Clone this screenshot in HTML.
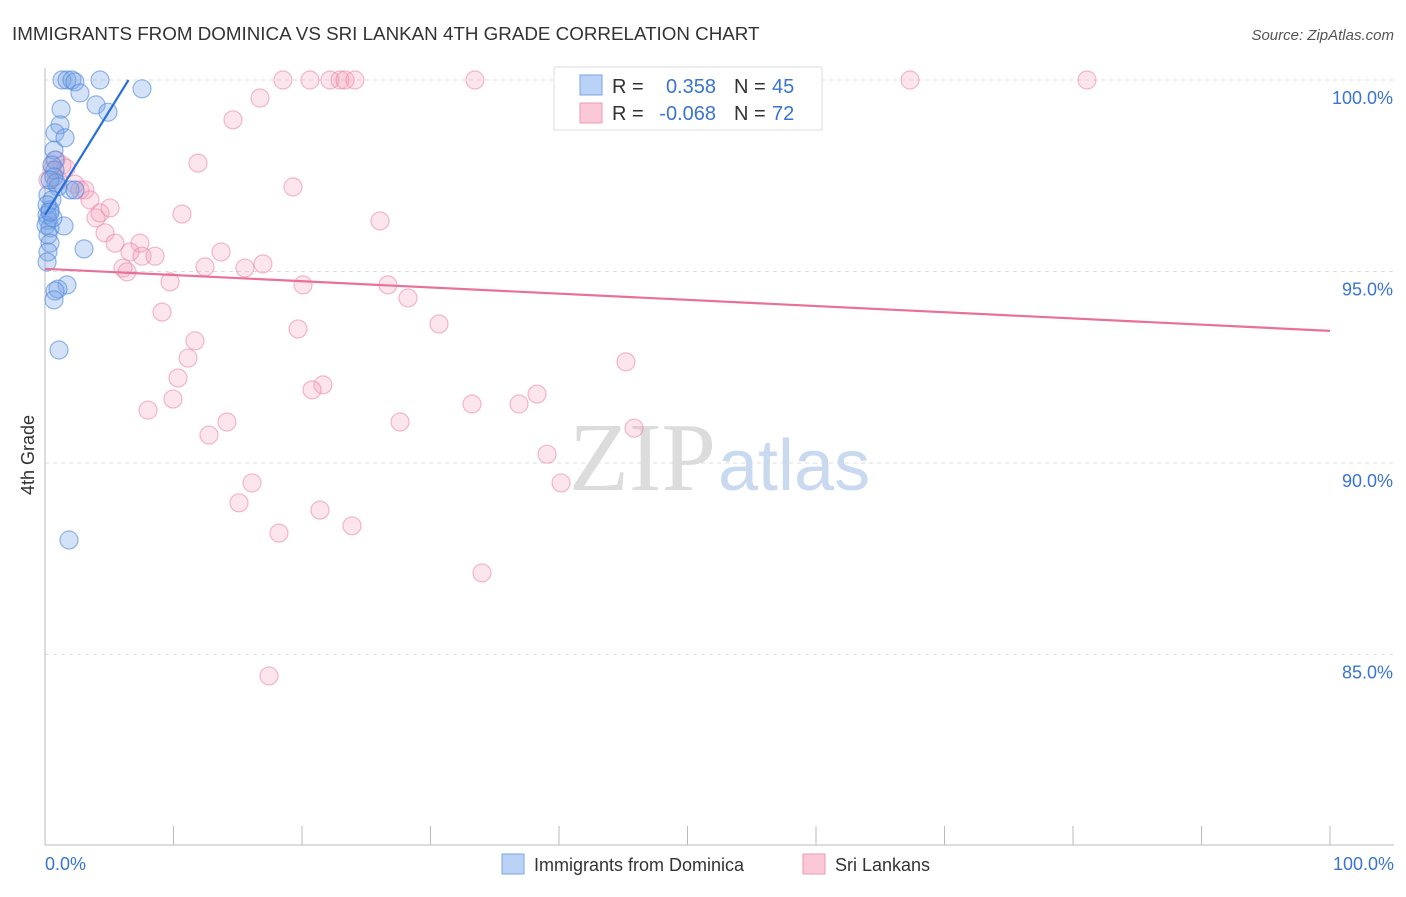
<!DOCTYPE html>
<html><head><meta charset="utf-8">
<style>
body{margin:0;background:#fff;font-family:"Liberation Sans",sans-serif;}
svg text{font-family:"Liberation Sans",sans-serif;}
</style></head>
<body>
<svg id="chart" width="1406" height="892" xmlns="http://www.w3.org/2000/svg">
<text x="12" y="40" font-size="18.8" fill="#333">IMMIGRANTS FROM DOMINICA VS SRI LANKAN 4TH GRADE CORRELATION CHART</text>
<text x="1394" y="40" font-size="15" fill="#555" font-style="italic" text-anchor="end">Source: ZipAtlas.com</text>
<g id="grid"></g>
<text x="716" y="490" font-size="98" fill="#dcdcdc" text-anchor="end" style="font-family:'Liberation Serif',serif">ZIP</text>
<text x="718" y="490" font-size="72" fill="#c9daf0">atlas</text>
<text x="34" y="455" font-size="18" fill="#333" transform="rotate(-90 34 455)" text-anchor="middle">4th Grade</text>
<g id="pts"></g>
<g id="lines"></g>
<g>
<rect x="554" y="67" width="268" height="63" fill="#fff" stroke="#ddd"/>
<rect x="580" y="75" width="22" height="20" fill="#b9d2f5" stroke="#7aa6e6"/>
<rect x="580" y="103" width="22" height="20" fill="#fac8d6" stroke="#f09ab3"/>
<text x="612" y="93" font-size="20" fill="#333">R =</text><text x="716" y="93" font-size="20" fill="#3a74d0" text-anchor="end">0.358</text>
<text x="734" y="93" font-size="20" fill="#333">N =</text><text x="772" y="93" font-size="20" fill="#3a74d0">45</text>
<text x="612" y="120" font-size="20" fill="#333">R =</text><text x="716" y="120" font-size="20" fill="#3a74d0" text-anchor="end">-0.068</text>
<text x="734" y="120" font-size="20" fill="#333">N =</text><text x="772" y="120" font-size="20" fill="#3a74d0">72</text>
</g>
<g>
<rect x="502" y="854" width="22" height="20" fill="#b9d2f5" stroke="#7aa6e6"/>
<text x="534" y="871" font-size="18" fill="#333">Immigrants from Dominica</text>
<rect x="803" y="854" width="22" height="20" fill="#fac8d6" stroke="#f09ab3"/>
<text x="835" y="871" font-size="18" fill="#333">Sri Lankans</text>
</g>
</svg>
<script>
const yTicks=[100,95,90,85];
const yTickLabels=["100.0%","95.0%","90.0%","85.0%"];
const xTickLabels=["0.0%","100.0%"];
const bluePx=[[62,80],[67,80],[72,80],[75,82],[100,80],[80,93],[142,89],[96,105],[61,109],[108,112],[60,125],[55,133],[65,138],[54,150],[55,160],[52,165],[55,170],[54,177],[56,183],[58,187],[70,190],[75,190],[48,195],[52,200],[50,210],[47,215],[48,220],[46,225],[50,228],[64,226],[48,235],[50,243],[48,252],[84,249],[67,285],[58,289],[55,291],[54,300],[59,350],[69,540],[50,180],[47,205],[53,218],[50,212],[47,262]];
const pinkPx=[[283,80],[310,80],[330,80],[340,80],[345,80],[355,80],[475,80],[910,80],[1087,80],[575,80],[260,98],[233,120],[198,163],[293,187],[56,160],[62,165],[52,170],[66,168],[58,180],[75,184],[80,190],[85,190],[90,200],[96,218],[100,213],[110,208],[105,233],[115,243],[140,243],[130,252],[142,256],[155,256],[182,214],[380,221],[221,252],[123,268],[127,272],[205,267],[245,268],[263,264],[170,282],[303,285],[388,285],[408,298],[162,312],[298,329],[439,324],[195,341],[188,358],[626,362],[178,378],[323,385],[312,390],[537,394],[173,399],[148,410],[472,404],[519,404],[227,422],[400,422],[209,435],[634,428],[547,454],[252,483],[561,483],[239,503],[320,510],[352,526],[279,533],[482,573],[269,676],[48,180]];
const blueX=bluePx.map(p=>+((p[0]-45)/12.85).toFixed(2)), blueY=bluePx.map(p=>+(100-(p[1]-80)/38.3).toFixed(2));
const pinkX=pinkPx.map(p=>+((p[0]-45)/12.85).toFixed(2)), pinkY=pinkPx.map(p=>+(100-(p[1]-80)/38.3).toFixed(2));
const blueTrend=[[0,96.48],[6.5,100]];
const pinkTrend=[[0,95.07],[100,93.45]];
const sx=v=>45+v*12.85, sy=v=>80+(100-v)*38.3;
const NS="http://www.w3.org/2000/svg";
function mk(t,a,parent){const e=document.createElementNS(NS,t);for(const k in a)e.setAttribute(k,a[k]);parent.appendChild(e);return e;}
const grid=document.getElementById('grid');
yTicks.forEach((t,i)=>{
 const l=mk('line',{x1:45,x2:1394,y1:sy(t),y2:sy(t),stroke:'#ddd','stroke-dasharray':'4 4'},grid);
 
 
 const tx=mk('text',{x:1393,y:sy(t)+24,'font-size':18,fill:'#3a74d0','text-anchor':'end'},grid);
 tx.textContent=yTickLabels[i];
 
 
});
mk('line',{x1:45,x2:45,y1:68,y2:845,stroke:'#bbb'},grid);
const xa=mk('line',{x1:45,x2:1394,y1:845,y2:845,stroke:'#bbb'},grid);


for(let i=0;i<=10;i++){const x=sx(i*10);mk('line',{x1:x,x2:x,y1:826,y2:845,stroke:'#bbb'},grid);}
xTickLabels.forEach((s,i)=>{const t=mk('text',{x:i?1394:45,y:870,'font-size':18,fill:'#3a74d0','text-anchor':i?'end':'start'},grid);t.textContent=s;
 
 });
const pts=document.getElementById('pts');
pinkX.forEach((x,i)=>{const c=mk('circle',{cx:sx(x),cy:sy(pinkY[i]),r:9,fill:'rgba(245,160,188,0.28)',stroke:'rgba(235,130,165,0.55)','stroke-width':1.2},pts);
 
 });
blueX.forEach((x,i)=>{const c=mk('circle',{cx:sx(x),cy:sy(blueY[i]),r:9,fill:'rgba(120,165,230,0.32)',stroke:'rgba(80,135,220,0.6)','stroke-width':1.2},pts);
 
 });
const ln=document.getElementById('lines');
const b=mk('line',{x1:sx(blueTrend[0][0]),y1:sy(blueTrend[0][1]),x2:sx(blueTrend[1][0]),y2:sy(blueTrend[1][1]),stroke:'#2a6fd6','stroke-width':2.2},ln);


const p=mk('line',{x1:sx(pinkTrend[0][0]),y1:sy(pinkTrend[0][1]),x2:sx(pinkTrend[1][0]),y2:sy(pinkTrend[1][1]),stroke:'#e8709a','stroke-width':2.2},ln);


</script>
</body></html>
